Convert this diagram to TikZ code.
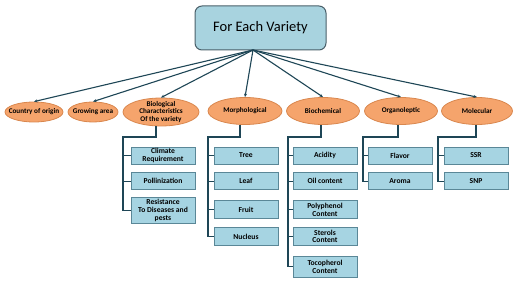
\documentclass[tikz,border=0pt]{standalone}
\usepackage{fontspec}
\setmainfont{Carlito}
\usetikzlibrary{arrows.meta, positioning, shapes.geometric}
\definecolor{headfill}{HTML}{A8D3DF}
\definecolor{headline}{HTML}{4A5F69}
\definecolor{ovalfill}{HTML}{F5A46C}
\definecolor{ovalline}{HTML}{D9874E}
\definecolor{leaffill}{HTML}{A6D4E2}
\definecolor{leafline}{HTML}{5A8797}
\definecolor{linkcol}{HTML}{1E4656}

\begin{document}
\begin{tikzpicture}[x=1pt, y=-1pt,
        head/.style={rectangle, rounded corners=7pt, draw=headline, fill=headfill,
                     line width=1pt, minimum width=131pt, minimum height=44pt,
                     font=\fontsize{14.5}{16}\selectfont},
        oval/.style={ellipse, draw=ovalline, fill=ovalfill, line width=0.8pt,
                     inner sep=0pt, minimum height=27pt, align=center,
                     font=\bfseries\fontsize{7.2}{7.6}\selectfont},
        leaf/.style={rectangle, draw=leafline, fill=leaffill, line width=0.8pt,
                     minimum width=64pt, minimum height=17pt, inner sep=1pt,
                     align=center, font=\bfseries\fontsize{7.6}{7.8}\selectfont},
        link/.style={draw=linkcol, line width=1.1pt, -{Stealth[length=3.5pt, width=3pt]}},
        trunk/.style={draw=linkcol, line width=1.4pt},
      ]
      \useasboundingbox (0,0) rectangle (520,286);

      % top of the tree
      \node[head] (variety) at (260.5,28) {For Each Variety};
      \coordinate (hub) at (253,50);

      % second row
      \node[oval, minimum width=58pt, minimum height=20pt, inner xsep=-7pt, inner ysep=-2pt] (origin) at (34,112) {Country of origin};
      \node[oval, minimum width=50pt, minimum height=20pt, inner xsep=-6pt, inner ysep=-2pt] (area) at (93,112) {Growing area};
      \node[oval, minimum width=76pt, minimum height=28pt, inner ysep=-4pt] (biolog) at (161,112)
        {Biological\\Characteristics\\Of the variety};
      \node[oval, minimum width=74pt] (morph) at (245,111) {Morphological};
      \node[oval, minimum width=73pt] (biochem) at (323,111) {Biochemical};
      \node[oval, minimum width=73pt] (organo) at (401,111) {Organoleptic};
      \node[oval, minimum width=71pt] (molec) at (477,111) {Molecular};

      \foreach \n in {origin, area, biolog, morph, biochem, organo, molec}
        \draw[link] (hub) -- (\n.north);

      % biological characteristics
      \node[leaf] (climate) at (163,155.5) {Climate\\Requirement};
      \node[leaf, below=8pt of climate] (pollin) {Pollinization};
      \node[leaf, below=7pt of pollin, minimum height=26pt] (resist) {Resistance\\To Diseases and\\pests};
      \coordinate (biolturn) at (123,137);
      \draw[trunk] ([xshift=-5pt]biolog.south) |- (biolturn) |- (resist.west);
      \foreach \n in {climate, pollin}
        \draw[trunk] (biolturn |- \n.west) -- (\n.west);

      % morphological
      \node[leaf] (tree) at (246,155.5) {Tree};
      \node[leaf, below=8pt of tree] (leafnode) {Leaf};
      \node[leaf, below=10pt of leafnode, minimum height=18pt] (fruit) {Fruit};
      \node[leaf, below=8pt of fruit, minimum height=18pt] (nucleus) {Nucleus};
      \coordinate (morphturn) at (208,137);
      \draw[trunk] ([xshift=-5pt]morph.south) |- (morphturn) |- (nucleus.west);
      \foreach \n in {tree, leafnode, fruit}
        \draw[trunk] (morphturn |- \n.west) -- (\n.west);

      % biochemical
      \node[leaf] (acidity) at (325,155.5) {Acidity};
      \node[leaf, below=8pt of acidity] (oil) {Oil content};
      \node[leaf, below=10pt of oil, minimum height=18pt] (polyph) {Polyphenol\\Content};
      \node[leaf, below=8pt of polyph, minimum height=18pt] (sterol) {Sterols\\Content};
      \node[leaf, below=10pt of sterol, minimum height=21pt] (tocoph) {Tocopherol\\Content};
      \coordinate (biochturn) at (288,137);
      \draw[trunk] ([xshift=-2pt]biochem.south) |- (biochturn) |- (tocoph.west);
      \foreach \n in {acidity, oil, polyph, sterol}
        \draw[trunk] (biochturn |- \n.west) -- (\n.west);

      % organoleptic
      \node[leaf] (flavor) at (400,155.5) {Flavor};
      \node[leaf, below=8pt of flavor] (aroma) {Aroma};
      \coordinate (organoturn) at (363,137);
      \draw[trunk] ([xshift=-3pt]organo.south) |- (organoturn) |- (aroma.west);
      \draw[trunk] (organoturn |- flavor.west) -- (flavor.west);

      % molecular
      \node[leaf] (ssr) at (476,155.5) {SSR};
      \node[leaf, below=8pt of ssr] (snp) {SNP};
      \coordinate (molecturn) at (438,137);
      \draw[trunk] ([xshift=-1pt]molec.south) |- (molecturn) |- (snp.west);
      \draw[trunk] (molecturn |- ssr.west) -- (ssr.west);
    \end{tikzpicture}
\end{document}
